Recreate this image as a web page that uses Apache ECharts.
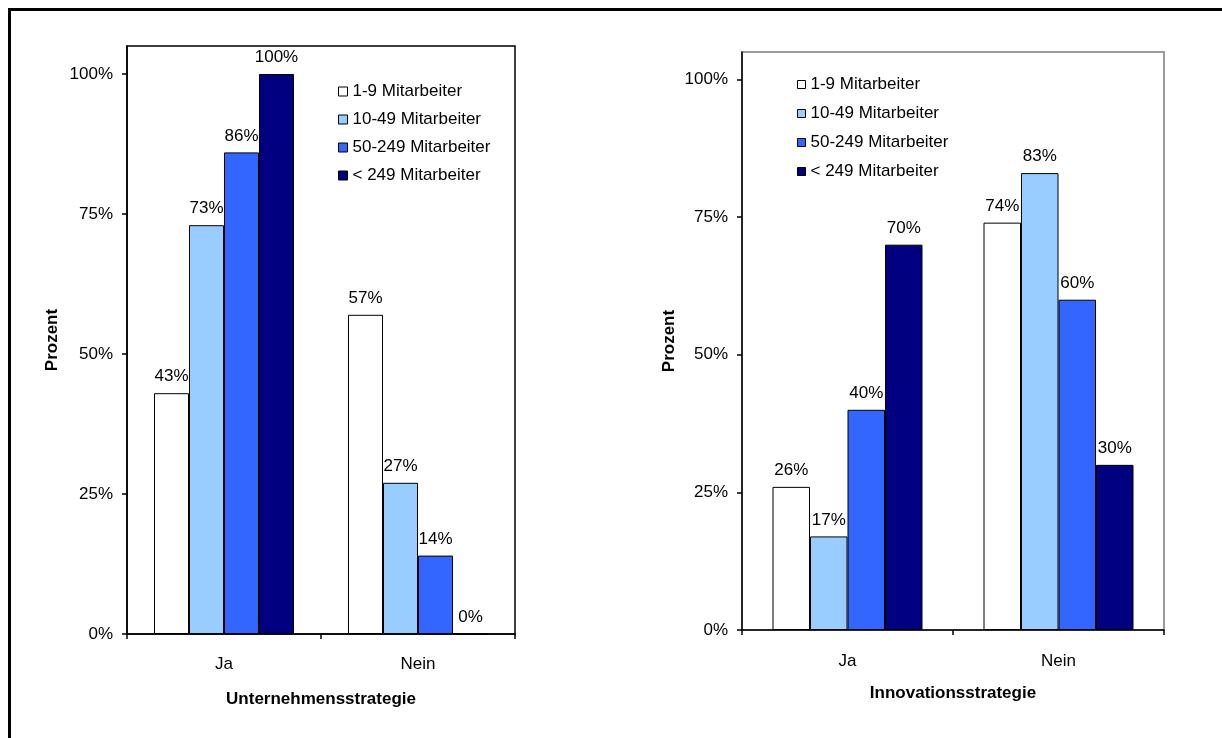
<!DOCTYPE html>
<html>
<head>
<meta charset="utf-8">
<script src="https://cdn.jsdelivr.net/npm/echarts@6/dist/echarts.min.js"></script>
<style>
  html, body { margin: 0; padding: 0; background: #fff; }
  #chart { width: 1222px; height: 738px; }
</style>
</head>
<body>
<div id="chart"></div>
<script>
// Company size classes (legend entries)
const sizeClasses = ['1-9 Mitarbeiter', '10-49 Mitarbeiter', '50-249 Mitarbeiter', '< 249 Mitarbeiter'];
const sizeColors = ['#FFFFFF', '#99CCFF', '#3366FF', '#000080'];

// Answer categories
const answers = ['Ja', 'Nein'];

// Unternehmensstrategie: share per size class for [Ja, Nein]
const unternehmen_1_9 = [0.43, 0.57];
const unternehmen_10_49 = [0.73, 0.27];
const unternehmen_50_249 = [0.86, 0.14];
const unternehmen_249 = [1.00, 0.00];

// Innovationsstrategie: share per size class for [Ja, Nein]
const innovation_1_9 = [0.26, 0.74];
const innovation_10_49 = [0.17, 0.83];
const innovation_50_249 = [0.40, 0.60];
const innovation_249 = [0.70, 0.30];

// Y-axis tick values
const percentTicks = [0, 0.25, 0.5, 0.75, 1];

const unternehmenSeries = [unternehmen_1_9, unternehmen_10_49, unternehmen_50_249, unternehmen_249];
const innovationSeries = [innovation_1_9, innovation_10_49, innovation_50_249, innovation_249];

const FONT = '"Liberation Sans", Arial, sans-serif';
const FS = 17;
const pct = v => Math.round(v * 100) + '%';

function yAxis(gridIndex, nameGap) {
  return {
    type: 'value', gridIndex: gridIndex, min: 0, max: 1.05,
    name: 'Prozent', nameLocation: 'middle', nameRotate: 90, nameGap: nameGap,
    nameTextStyle: { fontFamily: FONT, fontSize: FS, fontWeight: 'bold', color: '#000' },
    axisLine: { show: true, lineStyle: { color: '#000', width: 1.5 } },
    axisTick: { show: true, length: 5, inside: false, customValues: percentTicks, lineStyle: { color: '#000', width: 1.5 } },
    axisLabel: { customValues: percentTicks, formatter: pct, margin: 14, fontFamily: FONT, fontSize: FS, color: '#000' },
    splitLine: { show: false }
  };
}

function xAxis(gridIndex, title, nameGap, labelMargin) {
  return {
    type: 'category', gridIndex: gridIndex, data: answers,
    name: title, nameLocation: 'middle', nameGap: nameGap,
    nameTextStyle: { fontFamily: FONT, fontSize: FS, fontWeight: 'bold', color: '#000' },
    axisLine: { show: true, lineStyle: { color: '#000', width: 1.5 } },
    axisTick: { show: true, length: 5, lineStyle: { color: '#000', width: 1.5 } },
    axisLabel: { margin: labelMargin, fontFamily: FONT, fontSize: FS, color: '#000' }
  };
}

function barSeries(values, idx, gridIndex, width) {
  return {
    type: 'bar', name: sizeClasses[idx], xAxisIndex: gridIndex, yAxisIndex: gridIndex,
    data: values, barWidth: width, barGap: '0%',
    itemStyle: { color: sizeColors[idx], borderColor: '#000', borderWidth: 1 },
    label: { show: true, position: 'top', distance: 8, formatter: p => pct(p.value),
             fontFamily: FONT, fontSize: FS, color: '#000' },
    emphasis: { disabled: true },
    animation: false
  };
}

const series = [];
unternehmenSeries.forEach((v, i) => series.push(barSeries(v, i, 0, 35)));
innovationSeries.forEach((v, i) => series.push(barSeries(v, i, 1, 37.5)));

const legendBase = {
  orient: 'vertical', icon: 'rect',
  data: sizeClasses, selectedMode: false,
  textStyle: { fontFamily: FONT, fontSize: FS, color: '#000', lineHeight: 17 },
  itemStyle: { borderColor: '#000', borderWidth: 1 }
};

const option = {
  animation: false,
  backgroundColor: '#fff',
  grid: [
    { left: 127, top: 46, width: 388, height: 588, show: true, borderColor: '#000', borderWidth: 1.5, backgroundColor: 'transparent' },
    { left: 742, top: 52, width: 422, height: 578, show: true, borderColor: '#9a9a9a', borderWidth: 2, backgroundColor: 'transparent' }
  ],
  xAxis: [
    xAxis(0, 'Unternehmensstrategie', 57, 22),
    xAxis(1, 'Innovationsstrategie', 55, 23)
  ],
  yAxis: [yAxis(0, 66), yAxis(1, 64)],
  legend: [
    Object.assign({}, legendBase, { left: 333, top: 78, itemGap: 11, itemWidth: 9, itemHeight: 9 }),
    Object.assign({}, legendBase, { left: 792, top: 71, itemGap: 12, itemWidth: 8, itemHeight: 8 })
  ],
  graphic: [
    { type: 'rect', shape: { x: 9.5, y: 9.5, width: 1300, height: 800 },
      style: { fill: 'none', stroke: '#000', lineWidth: 3 }, silent: true, z: 100 }
  ],
  series: series
};

const chart = echarts.init(document.getElementById('chart'), null, { renderer: 'canvas' });
chart.setOption(option);
</script>
</body>
</html>
